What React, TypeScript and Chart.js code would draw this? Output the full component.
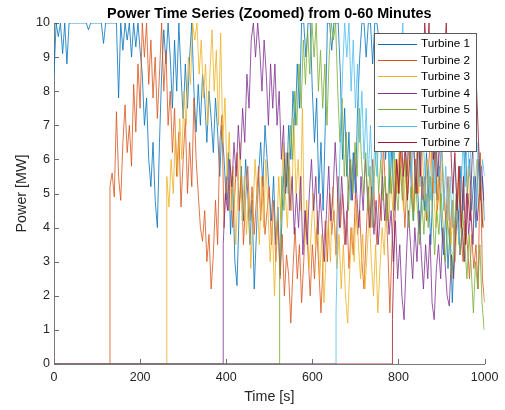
import React, { useEffect, useRef } from "react";
import { Chart, registerables } from "chart.js";

Chart.register(...registerables);

const chartTitle = "Power Time Series (Zoomed) from 0-60 Minutes";
const xAxisTitle = "Time [s]";
const yAxisTitle = "Power [MW]";

const seriesNames = ["Turbine 1", "Turbine 2", "Turbine 3", "Turbine 4", "Turbine 5", "Turbine 6", "Turbine 7"];
const seriesColors = ["#0072BD", "#D95319", "#EDB120", "#7E2F8E", "#77AC30", "#4DBEEE", "#A2142F"];
const startTimes = [0, 130, 262, 393, 524, 655, 786];
const sampleStep = 5;

const xTickValues = [0, 200, 400, 600, 800, 1000];
const yTickValues = [0, 1, 2, 3, 4, 5, 6, 7, 8, 9, 10];

const turbine1 = [
  8.5, 10, 9.6, 10, 9.1, 10, 8.8, 10, 10, 10,
  10, 10, 10, 10, 10, 10, 9.8, 10, 10, 10,
  10, 10, 10, 9.4, 10, 10, 10, 10, 10, 10,
  7.8, 10, 9.2, 10, 9.5, 10, 9.0, 10, 9.3, 10,
  9.2, 8.5, 7.0, 7.8, 6.0, 5.2, 6.5, 4.8, 4.0, 6.5,
  8.5, 9.8, 8.8, 10, 9.0, 7.5, 9.5, 8.0, 10, 8.5,
  7.2, 8.8, 7.5, 9.0, 10, 8.0, 6.8, 8.2, 7.0, 8.5,
  7.8, 6.5, 8.0, 7.2, 6.2, 7.8, 6.8, 5.5, 7.0, 6.0,
  4.8, 6.2, 3.8, 5.5, 3.0, 2.3, 4.5, 5.8, 4.2, 6.0,
  5.0, 3.5, 4.8, 2.2, 3.8, 5.5, 6.5, 5.2, 7.0, 6.0,
  5.0, 4.2, 5.5, 3.5, 4.6, 2.6, 4.5, 6.0, 5.2, 7.0,
  6.0, 8.0, 7.0, 8.8, 7.5, 10, 10, 9.0, 10, 10,
  8.0, 6.5, 7.8, 5.0, 6.5, 4.5, 7.0, 10, 10, 9.2,
  10, 10, 10, 8.5, 6.0, 7.5, 5.5, 6.8, 4.8, 6.2,
  5.0, 7.5, 9.0, 10, 10, 9.0, 10, 10, 8.8, 10,
  10, 9.5, 7.5, 8.5, 6.0, 7.2, 5.0, 6.5, 4.5, 6.0,
  5.2, 7.0, 8.5, 6.5, 5.5, 7.0, 5.0, 4.2, 6.0, 5.0,
  3.8, 5.5, 4.5, 6.2, 5.0, 3.5, 5.2, 6.5, 4.8, 5.8,
  4.0, 3.2, 4.5, 2.8, 4.0, 1.8, 3.5, 5.0, 4.2, 5.8,
  4.5, 6.5, 5.0, 6.0, 4.5, 5.5, 4.0, 6.0, 4.8, 5.5,
  4.2,
];

const turbine2 = [
  5.2, 5.6, 4.9, 7.4, 5.5, 4.8, 6.5, 7.6, 6.2, 7.0,
  5.8, 8.2, 6.8, 8.8, 7.5, 10, 9.0, 10, 8.2, 9.5,
  7.8, 9.0, 7.2, 8.5, 10, 8.0, 9.2, 7.0, 8.0, 6.2,
  7.5, 5.5, 6.8, 4.6, 6.0, 7.2, 5.0, 6.5, 5.2, 7.8,
  6.0, 5.0, 4.0, 3.6, 4.5, 3.0, 3.8, 2.2, 3.2, 4.8,
  3.5, 6.5, 7.3, 4.0, 5.5, 4.5, 5.8, 4.0, 5.0, 6.2,
  4.5, 5.5, 3.5, 4.8, 5.8, 4.2, 5.2, 3.8, 4.8, 5.8,
  4.2, 5.5, 3.8, 4.5, 5.2, 3.5, 4.8, 3.0, 4.2, 2.5,
  3.8, 2.0, 3.2, 2.6, 1.2, 2.8, 4.0, 2.5, 3.5, 1.8,
  3.0, 4.5, 3.2, 2.0, 3.5, 2.5, 4.0, 2.8, 1.5, 3.0,
  4.2, 3.0, 5.0, 3.8, 4.5, 3.2, 5.5, 4.0, 5.0, 3.5,
  4.5, 2.8, 4.0, 3.2, 5.0, 3.8, 4.5, 3.0, 2.2, 3.8,
  5.2, 4.0, 6.0, 4.5, 3.5, 5.0, 4.2, 6.5, 5.0, 3.5,
  1.5, 3.5, 4.8, 6.0, 5.0, 6.5, 5.2, 4.0, 5.5, 7.0,
  5.8, 4.5, 6.0, 5.0, 6.5, 4.8, 5.5, 4.2, 5.8, 6.8,
  5.0, 6.2, 4.5, 5.2, 6.5, 5.0, 4.2, 5.5, 3.8, 4.8,
  3.5, 4.5, 5.8, 4.0, 3.0, 4.2, 3.5, 2.5, 3.8, 2.8,
  3.5, 2.2, 6.2, 2.5, 1.8,
];

const turbine3 = [
  5.5, 4.6, 6.0, 5.0, 6.8, 5.5, 7.2, 6.0, 8.0, 7.0,
  9.0, 8.2, 10, 9.5, 10, 8.5, 9.5, 7.8, 8.8, 7.0,
  8.5, 9.8, 8.0, 9.2, 7.0, 9.7, 6.5, 7.8, 5.5, 6.8,
  4.5, 5.8, 3.5, 5.0, 6.5, 4.2, 5.5, 3.8, 5.0, 2.8,
  4.5, 6.0, 4.8, 3.5, 5.5, 4.0, 6.0, 4.5, 3.0, 4.2,
  2.0, 3.8, 5.5, 4.2, 6.5, 5.0, 4.0, 5.8, 4.5, 7.2,
  5.0, 6.0, 4.5, 7.5, 3.5, 4.8, 2.8, 3.8, 5.0, 3.5,
  4.5, 2.5, 3.8, 1.8, 3.2, 4.2, 3.0, 5.2, 4.0, 2.8,
  3.8, 2.2, 3.5, 2.0, 1.2, 2.8, 4.0, 3.0, 4.8, 3.5,
  2.5, 3.8, 2.2, 3.2, 4.5, 3.0, 2.0, 3.5, 1.5, 2.8,
  4.0, 3.2, 5.0, 4.0, 5.5, 4.5, 6.0, 5.0, 6.5, 5.2,
  4.5, 6.0, 5.0, 6.8, 5.5, 4.5, 6.2, 5.0, 7.0, 5.8,
  4.8, 6.0, 5.2, 6.5, 5.0, 4.0, 5.5, 4.5, 6.0, 5.0,
  4.0, 5.2, 3.5, 4.8, 3.0, 4.5, 5.5, 4.2, 3.2, 4.5,
  5.8, 4.5, 3.5, 5.0, 6.0, 4.5, 5.5, 4.0,
];

const turbine4 = [
  3.5, 5.0, 4.5, 6.0, 5.2, 6.5, 5.5, 7.0, 6.0, 7.5,
  6.5, 8.5, 7.5, 9.5, 10, 9.0, 10, 9.2, 8.0, 9.5,
  8.5, 7.0, 8.8, 7.5, 8.8, 7.0, 8.0, 6.0, 7.0, 5.0,
  6.2, 4.5, 5.5, 3.8, 5.0, 4.0, 5.5, 3.2, 4.5, 3.5,
  5.0, 6.0, 4.5, 5.5, 3.8, 5.0, 4.0, 3.0, 4.5, 5.8,
  4.2, 5.0, 6.5, 5.2, 4.0, 5.5, 4.5, 3.5, 5.0, 6.0,
  4.8, 6.2, 5.0, 4.0, 5.5, 4.5, 6.0, 5.0, 4.0, 5.2,
  3.8, 4.8, 3.5, 4.5, 5.5, 4.2, 5.0, 3.8, 4.5, 3.0,
  4.2, 2.5, 3.5, 2.0, 1.3, 3.0, 4.5, 3.5, 2.5, 4.0,
  3.0, 4.5, 3.2, 2.2, 3.5, 2.5, 3.8, 1.8, 1.3, 2.8,
  3.5, 2.5, 4.0, 3.0, 2.0, 1.7, 3.2, 2.5, 3.8, 4.5,
  3.2, 4.0, 3.0, 5.0, 3.8, 4.5, 3.5, 5.5, 4.2, 5.0,
  5.8, 4.8,
];

const turbine5 = [
  2.6, 5.5, 4.5, 6.2, 5.0, 7.0, 6.0, 8.0, 7.0, 8.8,
  7.5, 9.5, 8.2, 9.8, 8.5, 10, 9.0, 10, 8.0, 9.2,
  7.5, 8.8, 7.0, 9.0, 10, 9.5, 10, 8.0, 6.5, 7.8,
  5.5, 6.8, 4.5, 6.0, 5.0, 6.5, 5.5, 7.5, 6.0, 5.0,
  6.2, 4.5, 5.8, 4.0, 5.5, 6.5, 5.0, 6.0, 4.8, 5.5,
  4.2, 6.0, 5.0, 6.5, 5.2, 4.5, 5.8, 4.8, 6.0, 5.0,
  4.0, 5.2, 4.2, 5.5, 4.5, 3.5, 4.8, 3.8, 5.0, 4.0,
  5.5, 4.5, 3.2, 4.5, 3.8, 5.0, 4.0, 3.0, 4.2, 3.5,
  2.5, 3.8, 5.0, 4.0, 3.2, 4.5, 3.5, 2.5, 3.8, 2.8,
  1.5, 3.0, 2.2, 3.5, 1.8, 1.0,
];

const turbine6 = [
  1.5, 4.5, 6.5, 8.5, 10, 9.0, 10, 8.0, 9.5, 7.5,
  8.8, 6.5, 8.0, 6.0, 7.5, 5.5, 7.0, 5.0, 6.5, 5.5,
  7.2, 6.0, 8.0, 6.5, 7.5, 5.8, 7.0, 6.0, 8.5, 7.0,
  9.0, 10, 8.0, 6.5, 7.5, 5.5, 6.8, 5.0, 6.5, 5.2,
  7.0, 6.0, 4.5, 5.8, 4.8, 6.2, 5.0, 7.0, 5.5, 6.5,
  4.5, 5.8, 4.2, 5.5, 4.0, 6.0, 5.0, 3.5, 5.0, 6.5,
  5.2, 6.8, 5.5, 7.0, 5.8, 4.5, 6.5, 5.0, 6.0, 5.5,
];

const turbine7 = [
  1.3, 4.0, 6.0, 5.0, 7.0, 5.5, 6.5, 4.8, 6.0, 7.5,
  6.2, 5.0, 6.8, 5.5, 8.0, 10, 9.0, 10, 7.5, 6.0,
  7.0, 5.5, 6.5, 8.0, 9.0, 10, 8.0, 6.5, 5.0, 6.2,
  4.5, 5.8, 4.0, 5.5, 3.5, 5.0, 4.2, 6.0, 7.0, 8.2,
  6.5, 5.0, 4.0,
];

const seriesValues = [turbine1, turbine2, turbine3, turbine4, turbine5, turbine6, turbine7];

const FONT = "'Liberation Sans', Arial, Helvetica, sans-serif";
const TEXT_COLOR = "#262626";

function buildPoints(values: number[], start: number) {
  const pts: { x: number; y: number }[] = [];
  if (start > 0) {
    pts.push({ x: 0, y: 0 });
    pts.push({ x: start, y: 0 });
  }
  values.forEach((v, k) => pts.push({ x: start + k * sampleStep, y: v }));
  return pts;
}

const titlePlugin = {
  id: "matlabTitle",
  afterDraw(chart: any) {
    const { ctx, chartArea } = chart;
    ctx.save();
    ctx.font = `bold 14.4px ${FONT}`;
    ctx.fillStyle = "#000000";
    ctx.textAlign = "center";
    ctx.textBaseline = "alphabetic";
    ctx.fillText(chartTitle, (chartArea.left + chartArea.right) / 2, 17.5);
    ctx.restore();
  },
};

const inwardTicksPlugin = {
  id: "inwardTicks",
  beforeDatasetsDraw(chart: any) {
    const { ctx, chartArea, scales } = chart;
    ctx.save();
    ctx.strokeStyle = "#6e6e6e";
    ctx.lineWidth = 1;
    ctx.beginPath();
    for (const v of xTickValues) {
      const px = Math.round(scales.x.getPixelForValue(v)) + 0.5;
      ctx.moveTo(px, chartArea.bottom);
      ctx.lineTo(px, chartArea.bottom - 5);
    }
    for (const v of yTickValues) {
      const py = Math.round(scales.y.getPixelForValue(v)) + 0.5;
      ctx.moveTo(chartArea.left, py);
      ctx.lineTo(chartArea.left + 5, py);
    }
    ctx.stroke();
    ctx.restore();
  },
};

const legendPlugin = {
  id: "matlabLegend",
  afterDraw(chart: any) {
    const { ctx } = chart;
    const left = 374;
    const top = 33;
    const width = 102;
    const height = 118;
    ctx.save();
    ctx.fillStyle = "#ffffff";
    ctx.fillRect(left, top, width, height);
    ctx.strokeStyle = "#5a5a5a";
    ctx.lineWidth = 1;
    ctx.strokeRect(left + 0.5, top + 0.5, width, height);
    ctx.font = `11.7px ${FONT}`;
    ctx.textAlign = "left";
    ctx.textBaseline = "middle";
    chart.data.datasets.forEach((ds: any, i: number) => {
      const y = 43.5 + i * 16.45;
      ctx.strokeStyle = ds.borderColor;
      ctx.lineWidth = 1;
      ctx.beginPath();
      ctx.moveTo(378, Math.round(y) + 0.5);
      ctx.lineTo(417, Math.round(y) + 0.5);
      ctx.stroke();
      ctx.fillStyle = "#000000";
      ctx.fillText(ds.label, 421, y + 0.5);
    });
    ctx.restore();
  },
};

export default function App() {
  const canvasRef = useRef<HTMLCanvasElement | null>(null);

  useEffect(() => {
    if (!canvasRef.current) return;
    const datasets = seriesNames.map((name, i) => ({
      label: name,
      data: buildPoints(seriesValues[i], startTimes[i]),
      borderColor: seriesColors[i],
      backgroundColor: seriesColors[i],
      borderWidth: 0.8,
      pointRadius: 0,
      tension: 0,
      fill: false,
      order: seriesNames.length - i,
    }));

    const chart = new Chart(canvasRef.current, {
      type: "line",
      data: { datasets },
      options: {
        responsive: false,
        animation: false,
        devicePixelRatio: 1,
        events: [],
        layout: { padding: { top: 23, right: 18, left: 0, bottom: 0 }, autoPadding: false },
        plugins: {
          legend: { display: false },
          title: { display: false },
          tooltip: { enabled: false },
        },
        scales: {
          x: {
            type: "linear",
            min: 0,
            max: 1000,
            afterFit: (s: any) => {
              s.height = 46;
            },
            afterBuildTicks: (s: any) => {
              s.ticks = xTickValues.map((v) => ({ value: v }));
            },
            ticks: {
              padding: 6.5,
              color: TEXT_COLOR,
              maxRotation: 0,
              font: { size: 12.5, family: FONT },
              callback: (v: any) => String(v),
            },
            grid: { drawOnChartArea: false, drawTicks: false },
            border: { display: true, color: "#7a7a7a", width: 1 },
            title: {
              display: true,
              text: xAxisTitle,
              color: TEXT_COLOR,
              font: { size: 14.3, family: FONT },
              padding: { top: 0, bottom: 3.9 },
            },
          },
          y: {
            type: "linear",
            min: 0,
            max: 10,
            afterFit: (s: any) => {
              s.width = 54;
            },
            afterBuildTicks: (s: any) => {
              s.ticks = yTickValues.map((v) => ({ value: v }));
            },
            ticks: {
              padding: 4,
              color: TEXT_COLOR,
              font: { size: 12.5, family: FONT },
              callback: (v: any) => String(v),
            },
            grid: { drawOnChartArea: false, drawTicks: false },
            border: { display: true, color: "#7a7a7a", width: 1 },
            title: {
              display: true,
              text: yAxisTitle,
              color: TEXT_COLOR,
              font: { size: 14.3, family: FONT },
              padding: { top: 13.4, bottom: 0 },
            },
          },
        },
      },
      plugins: [titlePlugin, inwardTicksPlugin, legendPlugin],
    } as any);

    return () => chart.destroy();
  }, []);

  return (
    <div style={{ position: "fixed", left: 0, top: 0, width: 505, height: 410, background: "#ffffff" }}>
      <canvas ref={canvasRef} width={505} height={410} style={{ display: "block" }} />
    </div>
  );
}
